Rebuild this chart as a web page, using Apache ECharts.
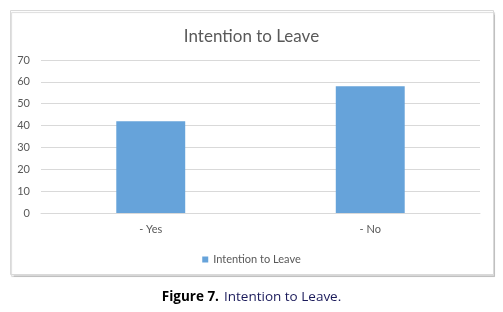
<!DOCTYPE html>
<html><head><meta charset="utf-8">
<script src="https://cdn.jsdelivr.net/npm/echarts@6/dist/echarts.min.js"></script>
<style>html,body{margin:0;padding:0;background:#fff}#c{width:503px;height:312px}</style>
</head><body><div id="c"></div>
<script>
const categories = ['- Yes', '- No'];
const seriesName = 'Intention to Leave';
const values = [42, 58];
const yTicks = [0, 10, 20, 30, 40, 50, 60, 70];

const chart = echarts.init(document.getElementById('c'), null, {renderer: 'canvas'});
const font = 'Lato, "Open Sans", sans-serif';
chart.setOption({
  animation: false,
  graphic: [{
    type: 'rect', shape: {x: 10.5, y: 10.5, width: 483, height: 264},
    style: {fill: '#fff', stroke: '#d9d9d9', lineWidth: 1, shadowColor: 'rgba(0,0,0,0.15)', shadowOffsetX: 1, shadowOffsetY: 2, shadowBlur: 1},
    z: -10
  }],
  title: [{
    text: 'Intention to Leave', left: 'center', top: 23,
    textStyle: {fontFamily: font, fontSize: 17, fontWeight: 'normal', color: '#595959'}
  }, {
    text: '{b|Figure 7.} {n|Intention to Leave.}', left: 'center', top: 283,
    textStyle: {fontWeight: 'normal', rich: {
      b: {fontFamily: '"Open Sans", sans-serif', fontSize: 13.5, fontWeight: 'bold', color: '#000'},
      n: {fontFamily: '"Open Sans", sans-serif', fontSize: 13.5, fontWeight: 'normal', color: '#1a1a5a'}
    }}
  }],
  legend: {
    data: [seriesName], left: 'center', top: 249, itemWidth: 6, itemHeight: 6, icon: 'rect',
    itemGap: 5, textStyle: {fontFamily: font, fontSize: 11, color: '#595959'}
  },
  grid: {left: 41, right: 23, top: 60, bottom: 99, containLabel: false},
  xAxis: {
    type: 'category', data: categories,
    axisLine: {lineStyle: {color: '#d9d9d9'}}, axisTick: {show: false},
    axisLabel: {fontFamily: font, fontSize: 11, color: '#595959', margin: 11}
  },
  yAxis: {
    type: 'value', min: yTicks[0], max: yTicks[yTicks.length - 1], interval: 10,
    axisLine: {show: false}, axisTick: {show: false},
    splitLine: {lineStyle: {color: '#d9d9d9'}},
    axisLabel: {fontFamily: font, fontSize: 11, color: '#595959', margin: 11}
  },
  series: [{
    name: seriesName, type: 'bar', data: values, barWidth: '31.4%',
    itemStyle: {color: '#66a3da'}
  }]
});
</script></body></html>
